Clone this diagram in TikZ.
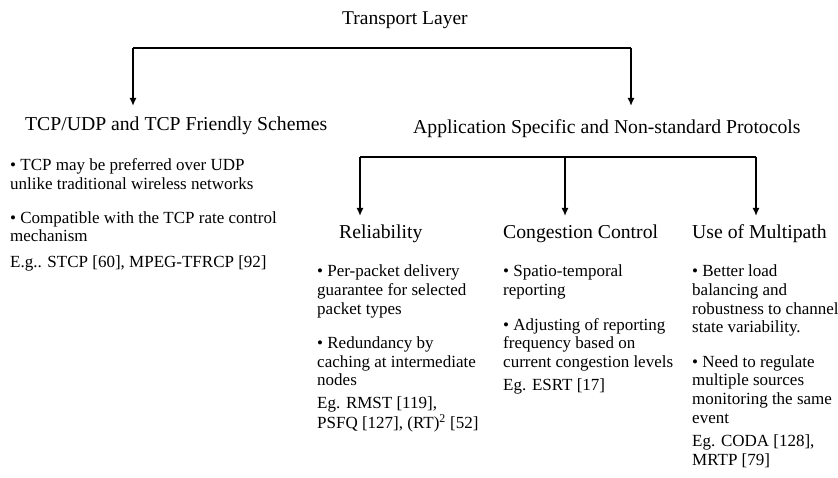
\documentclass[tikz,border=0pt]{standalone}
\usepackage{fontspec}
\setmainfont{Liberation Serif}
\usetikzlibrary{arrows.meta}
\newcommand{\colbody}[1]{\begin{tabular}[t]{@{}l@{}}#1\end{tabular}}
\begin{document}
\begin{tikzpicture}[x=1pt,y=-1pt,
  conn/.style={line width=1.7pt},
  arr/.style={line width=1.7pt,-{Latex[length=8pt,width=7pt]}},
  head/.style={anchor=base west,inner sep=0pt,font=\fontsize{19.7}{22}\selectfont},
  body/.style={anchor=base west,inner sep=0pt,font=\fontsize{17}{18.6}\selectfont},
  ttl/.style={anchor=base west,inner sep=0pt,font=\fontsize{19.5}{22}\selectfont}]
\useasboundingbox (0,0) rectangle (838,478);
% title
\node[ttl] (tl) at (342,25) {Transport Layer};
% level 1 junction
\coordinate (j1a) at (133,48);
\coordinate (j1b) at (631,48);
\coordinate (t1a) at (133,106);
\coordinate (t1b) at (631,106);
\draw[conn] (j1a) -- (j1b);
\draw[arr] (j1a) -- (t1a);
\draw[arr] (j1b) -- (t1b);
% level 1 headers
\node[head] (tcp) at (25,131) {TCP/UDP and TCP Friendly Schemes};
\node[head] (app) at (413,134) {Application Specific and Non-standard Protocols};
% left body
\node[body] (tcpb) at (10,171) {\colbody{• TCP may be preferred over UDP\\unlike traditional wireless networks\\[15pt]• Compatible with the TCP rate control\\mechanism\\[7pt]E.g.. STCP [60], MPEG-TFRCP [92]}};
% level 2 junction
\coordinate (j2a) at (360,157);
\coordinate (j2m) at (565,157);
\coordinate (j2b) at (756,157);
\coordinate (t2a) at (360,216);
\coordinate (t2m) at (565,216);
\coordinate (t2b) at (756,216);
\draw[conn] (j2a) -- (j2b);
\draw[arr] (j2a) -- (t2a);
\draw[arr] (j2m) -- (t2m);
\draw[arr] (j2b) -- (t2b);
% level 2 headers
\node[head] (rel) at (339,239) {Reliability};
\node[head] (cc) at (503,239) {Congestion Control};
\node[head] (mp) at (692,239) {Use of Multipath};
% level 2 bodies
\node[body] (relb) at (317,277) {\colbody{• Per-packet delivery\\guarantee for selected\\packet types\\[16pt]• Redundancy by\\caching at intermediate\\nodes\\[4pt]Eg. RMST [119],\\PSFQ [127], (RT)\textsuperscript{2} [52]}};
\node[body] (ccb) at (503,277) {\colbody{• Spatio-temporal\\reporting\\[16pt]• Adjusting of reporting\\frequency based on\\current congestion levels\\[5pt]Eg. ESRT [17]}};
\node[body] (mpb) at (692,277) {\colbody{• Better load\\balancing and\\robustness to channel\\state variability.\\[16pt]• Need to regulate\\multiple sources\\monitoring the same\\event\\[5pt]Eg. CODA [128],\\MRTP [79]}};
\end{tikzpicture}
\end{document}
